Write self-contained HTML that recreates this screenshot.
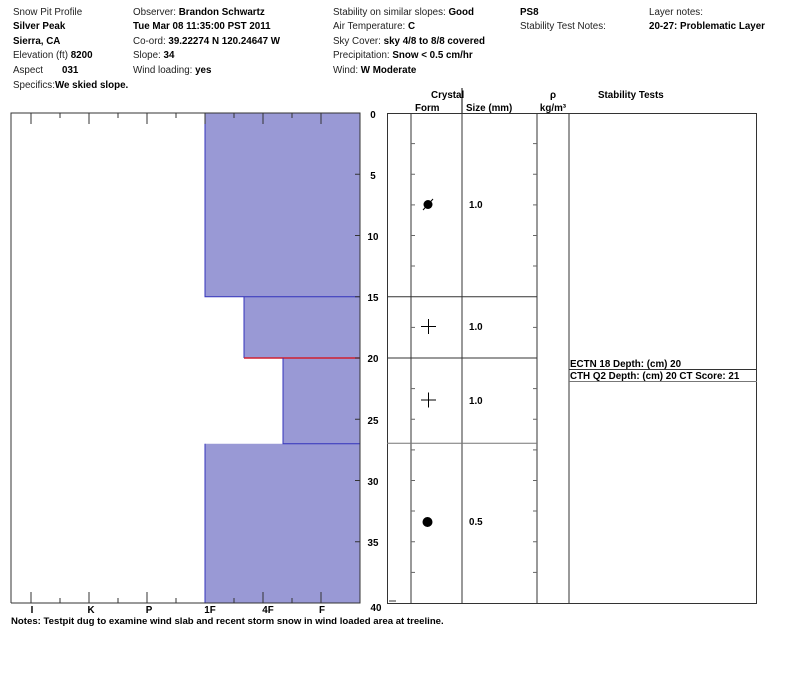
<!DOCTYPE html>
<html><head><style>
html,body{margin:0;padding:0;background:#fff;}
svg{display:block;font-family:"Liberation Sans",Arial,sans-serif;}
.n{font-size:9.8px;fill:#222;}
.b{font-size:9.8px;font-weight:bold;fill:#000;}
.nt{font-size:9.6px;font-weight:bold;fill:#000;}
</style></head><body>
<svg width="800" height="676" viewBox="0 0 800 676" xmlns="http://www.w3.org/2000/svg">
<text x="13" y="15" class="n">Snow Pit Profile</text>
<text x="13" y="29" class="b">Silver Peak</text>
<text x="13" y="44" class="b">Sierra, CA</text>
<text x="13" y="58" class="n">Elevation (ft)  <tspan class="b">8200</tspan></text>
<text x="13" y="73" class="n">Aspect</text><text x="62" y="73" class="b">031</text>
<text x="13" y="88" class="n">Specifics:<tspan class="b">We skied slope.</tspan></text>

<text x="133" y="15" class="n">Observer:  <tspan class="b">Brandon Schwartz</tspan></text>
<text x="133" y="29" class="b">Tue Mar 08 11:35:00 PST 2011</text>
<text x="133" y="44" class="n">Co-ord:  <tspan class="b">39.22274 N 120.24647 W</tspan></text>
<text x="133" y="58" class="n">Slope:  <tspan class="b">34</tspan></text>
<text x="133" y="73" class="n">Wind loading:  <tspan class="b">yes</tspan></text>

<text x="333" y="15" class="n">Stability on similar slopes:  <tspan class="b">Good</tspan></text>
<text x="333" y="29" class="n">Air Temperature:   <tspan class="b">C</tspan></text>
<text x="333" y="44" class="n">Sky Cover:  <tspan class="b">sky 4/8 to 8/8 covered</tspan></text>
<text x="333" y="58" class="n">Precipitation:  <tspan class="b">Snow &lt; 0.5 cm/hr</tspan></text>
<text x="333" y="73" class="n">Wind:  <tspan class="b">W Moderate</tspan></text>

<text x="520" y="15" class="b">PS8</text>
<text x="520" y="29" class="n">Stability Test Notes:</text>
<text x="649" y="15" class="n">Layer notes:</text>
<text x="649" y="29" class="b">20-27: Problematic Layer</text>

<text x="431" y="98" class="b">Crystal</text>
<line x1="462" y1="88" x2="462" y2="113" stroke="#000"/>
<text x="415" y="111" class="b">Form</text>
<text x="466" y="111" class="b">Size (mm)</text>
<text x="553" y="98" class="b" text-anchor="middle">ρ</text>
<text x="553" y="111" class="b" text-anchor="middle">kg/m³</text>
<text x="598" y="98" class="b">Stability Tests</text>

<rect x="205" y="113" width="155" height="183.75" fill="#9999d5"/>
<rect x="244" y="296.75" width="116" height="61.25" fill="#9999d5"/>
<rect x="283" y="358" width="77" height="85.75" fill="#9999d5"/>
<rect x="205" y="443.75" width="155" height="159.25" fill="#9999d5"/>
<polyline points="205,113 205,296.75 360,296.75" fill="none" stroke="#3333bb"/>
<polyline points="244,296.75 244,358" fill="none" stroke="#3333bb"/>
<line x1="244" y1="358" x2="360" y2="358" stroke="#d02030" stroke-width="1.5"/>
<polyline points="283,358 283,443.75 360,443.75" fill="none" stroke="#3333bb"/>
<polyline points="205,443.75 205,603" fill="none" stroke="#3333bb"/>
<polyline points="11,603 11,113 360,113 360,603 11,603" fill="none" stroke="#333"/>
<g stroke="#333">
<line x1="31" y1="113" x2="31" y2="124"/><line x1="60" y1="113" x2="60" y2="118"/>
<line x1="89" y1="113" x2="89" y2="124"/><line x1="118" y1="113" x2="118" y2="118"/>
<line x1="147" y1="113" x2="147" y2="124"/><line x1="176" y1="113" x2="176" y2="118"/>
<line x1="205" y1="113" x2="205" y2="124"/><line x1="234" y1="113" x2="234" y2="118"/>
<line x1="263" y1="113" x2="263" y2="124"/><line x1="292" y1="113" x2="292" y2="118"/>
<line x1="321" y1="113" x2="321" y2="124"/>
<line x1="31" y1="603" x2="31" y2="592"/><line x1="60" y1="603" x2="60" y2="598"/>
<line x1="89" y1="603" x2="89" y2="592"/><line x1="118" y1="603" x2="118" y2="598"/>
<line x1="147" y1="603" x2="147" y2="592"/><line x1="176" y1="603" x2="176" y2="598"/>
<line x1="234" y1="603" x2="234" y2="598"/>
<line x1="263" y1="603" x2="263" y2="592"/><line x1="292" y1="603" x2="292" y2="598"/>
<line x1="321" y1="603" x2="321" y2="592"/>
</g>
<g text-anchor="middle">
<text x="32" y="613" class="b">I</text><text x="91" y="613" class="b">K</text>
<text x="149" y="613" class="b">P</text><text x="210" y="613" class="b">1F</text>
<text x="268" y="613" class="b">4F</text><text x="322" y="613" class="b">F</text>
</g>
<text x="11" y="624" class="nt">Notes:  Testpit dug to examine wind slab and recent storm snow in wind loaded area at treeline.</text>

<g stroke="#333">
<line x1="355" y1="174.25" x2="360" y2="174.25"/><line x1="355" y1="235.5" x2="360" y2="235.5"/>
<line x1="355" y1="296.75" x2="360" y2="296.75"/><line x1="355" y1="358" x2="360" y2="358"/>
<line x1="355" y1="419.25" x2="360" y2="419.25"/><line x1="355" y1="480.5" x2="360" y2="480.5"/>
<line x1="355" y1="541.75" x2="360" y2="541.75"/>
</g>
<g text-anchor="middle">
<text x="373" y="118" class="b">0</text><text x="373" y="179" class="b">5</text>
<text x="373" y="240" class="b">10</text><text x="373" y="301" class="b">15</text>
<text x="373" y="362" class="b">20</text><text x="373" y="424" class="b">25</text>
<text x="373" y="485" class="b">30</text><text x="373" y="546" class="b">35</text>
<text x="376" y="611" class="b">40</text>
</g>

<rect x="387.5" y="113.5" width="369" height="490" fill="none" stroke="#333"/>
<g stroke="#333">
<line x1="411" y1="113" x2="411" y2="604"/>
<line x1="462" y1="113" x2="462" y2="604"/>
<line x1="537" y1="113" x2="537" y2="604"/>
<line x1="569" y1="113" x2="569" y2="604"/>
<line x1="387" y1="296.75" x2="537" y2="296.75"/>
<line x1="387" y1="358" x2="537" y2="358"/>
<line x1="387" y1="443.25" x2="537" y2="443.25" stroke="#777"/>
<line x1="569" y1="369.5" x2="757" y2="369.5"/>
<line x1="569" y1="381.5" x2="757" y2="381.5" stroke="#777"/>
<line x1="389" y1="601" x2="396" y2="601"/>
</g>
<g stroke="#666">
<line x1="411" y1="143.6" x2="415" y2="143.6"/><line x1="411" y1="174.25" x2="415" y2="174.25"/>
<line x1="411" y1="204.9" x2="415" y2="204.9"/><line x1="411" y1="235.5" x2="415" y2="235.5"/>
<line x1="411" y1="266" x2="415" y2="266"/><line x1="411" y1="327.4" x2="415" y2="327.4"/>
<line x1="411" y1="388.6" x2="415" y2="388.6"/><line x1="411" y1="419.25" x2="415" y2="419.25"/>
<line x1="411" y1="449.9" x2="415" y2="449.9"/><line x1="411" y1="480.5" x2="415" y2="480.5"/>
<line x1="411" y1="511" x2="415" y2="511"/><line x1="411" y1="541.75" x2="415" y2="541.75"/>
<line x1="411" y1="572.4" x2="415" y2="572.4"/>
<line x1="533" y1="143.6" x2="537" y2="143.6"/><line x1="533" y1="174.25" x2="537" y2="174.25"/>
<line x1="533" y1="204.9" x2="537" y2="204.9"/><line x1="533" y1="235.5" x2="537" y2="235.5"/>
<line x1="533" y1="266" x2="537" y2="266"/><line x1="533" y1="327.4" x2="537" y2="327.4"/>
<line x1="533" y1="388.6" x2="537" y2="388.6"/><line x1="533" y1="419.25" x2="537" y2="419.25"/>
<line x1="533" y1="449.9" x2="537" y2="449.9"/><line x1="533" y1="480.5" x2="537" y2="480.5"/>
<line x1="533" y1="511" x2="537" y2="511"/><line x1="533" y1="541.75" x2="537" y2="541.75"/>
<line x1="533" y1="572.4" x2="537" y2="572.4"/>
</g>
<circle cx="428" cy="204.5" r="4.5" fill="#000"/>
<line x1="423" y1="210" x2="433" y2="199" stroke="#000"/>
<g stroke="#000"><line x1="421" y1="326.5" x2="436" y2="326.5"/><line x1="428.5" y1="319" x2="428.5" y2="334"/>
<line x1="421" y1="400" x2="436" y2="400"/><line x1="428.5" y1="392.5" x2="428.5" y2="407.5"/></g>
<circle cx="427.5" cy="522" r="5" fill="#000"/>
<text x="469" y="208" class="b">1.0</text>
<text x="469" y="330" class="b">1.0</text>
<text x="469" y="404" class="b">1.0</text>
<text x="469" y="525" class="b">0.5</text>
<text x="570" y="367" class="b">ECTN 18   Depth: (cm) 20</text>
<text x="570" y="379" class="b">CTH Q2 Depth: (cm) 20 CT Score: 21</text>
</svg>
</body></html>
